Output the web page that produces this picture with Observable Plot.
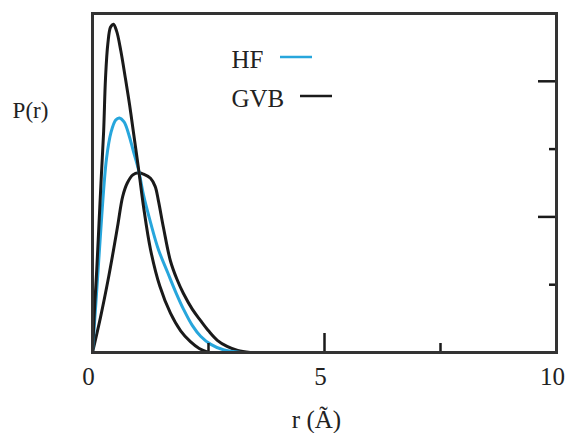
<!DOCTYPE html>
<html>
<head>
<meta charset="utf-8">
<script src="https://cdn.jsdelivr.net/npm/d3@7"></script>
<script src="https://cdn.jsdelivr.net/npm/@observablehq/plot@0.6"></script>
<style>
  html, body { margin: 0; padding: 0; background: #fff; }
  #chart { position: relative; width: 566px; height: 433px; }
  #chart svg { overflow: visible; }
</style>
</head>
<body>
<div id="chart"></div>
<script>
// HF radial distribution
const hfR = [0, 0.08, 0.17, 0.30, 0.40, 0.50, 0.58, 0.68, 0.78, 0.88, 0.99, 1.10, 1.25, 1.42, 1.62, 1.80, 1.96, 2.15, 2.33, 2.55, 2.82, 3.20];
const hfP = [0, 0.80, 1.72, 2.85, 3.25, 3.43, 3.46, 3.40, 3.22, 2.97, 2.70, 2.32, 1.92, 1.52, 1.18, 0.88, 0.64, 0.40, 0.24, 0.12, 0.04, 0];

// GVB: inner (sharp) orbital
const gvbInR = [0, 0.04, 0.09, 0.14, 0.19, 0.24, 0.28, 0.33, 0.39, 0.45, 0.52, 0.61, 0.71, 0.80, 0.88, 0.99, 1.10, 1.25, 1.45, 1.68, 1.90, 2.11, 2.30, 2.50];
const gvbInP = [0, 0.60, 1.20, 1.90, 2.60, 3.26, 4.04, 4.55, 4.80, 4.84, 4.74, 4.45, 4.04, 3.65, 3.26, 2.72, 2.15, 1.52, 0.98, 0.58, 0.32, 0.16, 0.06, 0];

// GVB: outer (diffuse) orbital
const gvbOutR = [0, 0.17, 0.33, 0.45, 0.55, 0.65, 0.75, 0.87, 0.99, 1.10, 1.25, 1.35, 1.42, 1.53, 1.68, 1.82, 1.96, 2.15, 2.33, 2.50, 2.69, 2.90, 3.13, 3.40];
const gvbOutP = [0, 0.51, 1.05, 1.50, 1.90, 2.30, 2.50, 2.62, 2.65, 2.63, 2.57, 2.45, 2.24, 1.84, 1.35, 1.08, 0.87, 0.64, 0.47, 0.32, 0.18, 0.09, 0.03, 0];

// tick marks and labels
const xTickLabels = [0, 5, 10];
const xMinorTicks = [2.5, 5, 7.5];
const xLongTicks = [5];
const yMinorTicks = [1, 2, 3, 4];
const yLongTicks = [2, 4];
const seriesNames = ["HF", "GVB"];
const seriesColors = ["#27a6dc", "#1a1a1a"];

const toRows = (rs, ps) => rs.map((r, i) => ({r, p: ps[i]}));
const hf = toRows(hfR, hfP);
const gvbIn = toRows(gvbInR, gvbInP);
const gvbOut = toRows(gvbOutR, gvbOutP);

const font = "Liberation Serif";
const xPx = 46.4, yPx = 67.8;

const chart = Plot.plot({
  width: 566,
  height: 433,
  marginLeft: 92,
  marginRight: 10,
  marginTop: 13,
  marginBottom: 81,
  x: {domain: [0, 10]},
  y: {domain: [0, 5]},
  marks: [
    Plot.line(gvbOut, {x: "r", y: "p", stroke: seriesColors[1], strokeWidth: 3, curve: "catmull-rom"}),
    Plot.line(hf, {x: "r", y: "p", stroke: seriesColors[0], strokeWidth: 3, curve: "catmull-rom"}),
    Plot.line(gvbIn, {x: "r", y: "p", stroke: seriesColors[1], strokeWidth: 3, curve: "catmull-rom"}),
    Plot.ruleX(xMinorTicks, {x: d => d, y1: 0, y2: d => xLongTicks.includes(d) ? 19 / yPx : 9 / yPx, stroke: "#1a1a1a", strokeWidth: 2.5}),
    Plot.ruleY(yMinorTicks, {y: d => d, x1: 10, x2: d => yLongTicks.includes(d) ? 10 - 18 / xPx : 10 - 7 / xPx, stroke: "#1a1a1a", strokeWidth: 2.5}),
    Plot.frame({stroke: "#333", strokeWidth: 3}),
    Plot.axisX(xTickLabels, {tickSize: 0, tickPadding: 15, dx: -4, fontSize: 25, fill: "#222", label: null}),
    Plot.axisY([], {label: null}),
    Plot.text(["r (Ã)"], {frameAnchor: "bottom", dx: -8, dy: 75, lineAnchor: "bottom", fontSize: 25, fill: "#222"}),
    Plot.text(["P(r)"], {frameAnchor: "top-left", dx: -62, dy: 97, textAnchor: "middle", lineAnchor: "middle", fontSize: 23, fill: "#222"}),
    Plot.text([seriesNames[0]], {frameAnchor: "top-left", dx: 139, dy: 54, textAnchor: "start", lineAnchor: "bottom", fontSize: 25, fill: "#222"}),
    Plot.text([seriesNames[1]], {frameAnchor: "top-left", dx: 139, dy: 93, textAnchor: "start", lineAnchor: "bottom", fontSize: 25, fill: "#222"})
  ]
});

const svg = d3.select(chart);
svg.attr("font-family", font).style("font-family", font);
svg.selectAll("g").attr("font-family", null);
svg.selectAll("text").attr("font-family", font).style("font-family", font);

// legend swatches
const swatches = [
  {x1: 280, x2: 312, y: 57, color: seriesColors[0]},
  {x1: 300, x2: 332, y: 96, color: seriesColors[1]}
];
svg.append("g").selectAll("line").data(swatches).join("line")
  .attr("x1", d => d.x1).attr("x2", d => d.x2)
  .attr("y1", d => d.y).attr("y2", d => d.y)
  .attr("stroke", d => d.color).attr("stroke-width", 2.5);

document.getElementById("chart").append(chart);
</script>
</body>
</html>
